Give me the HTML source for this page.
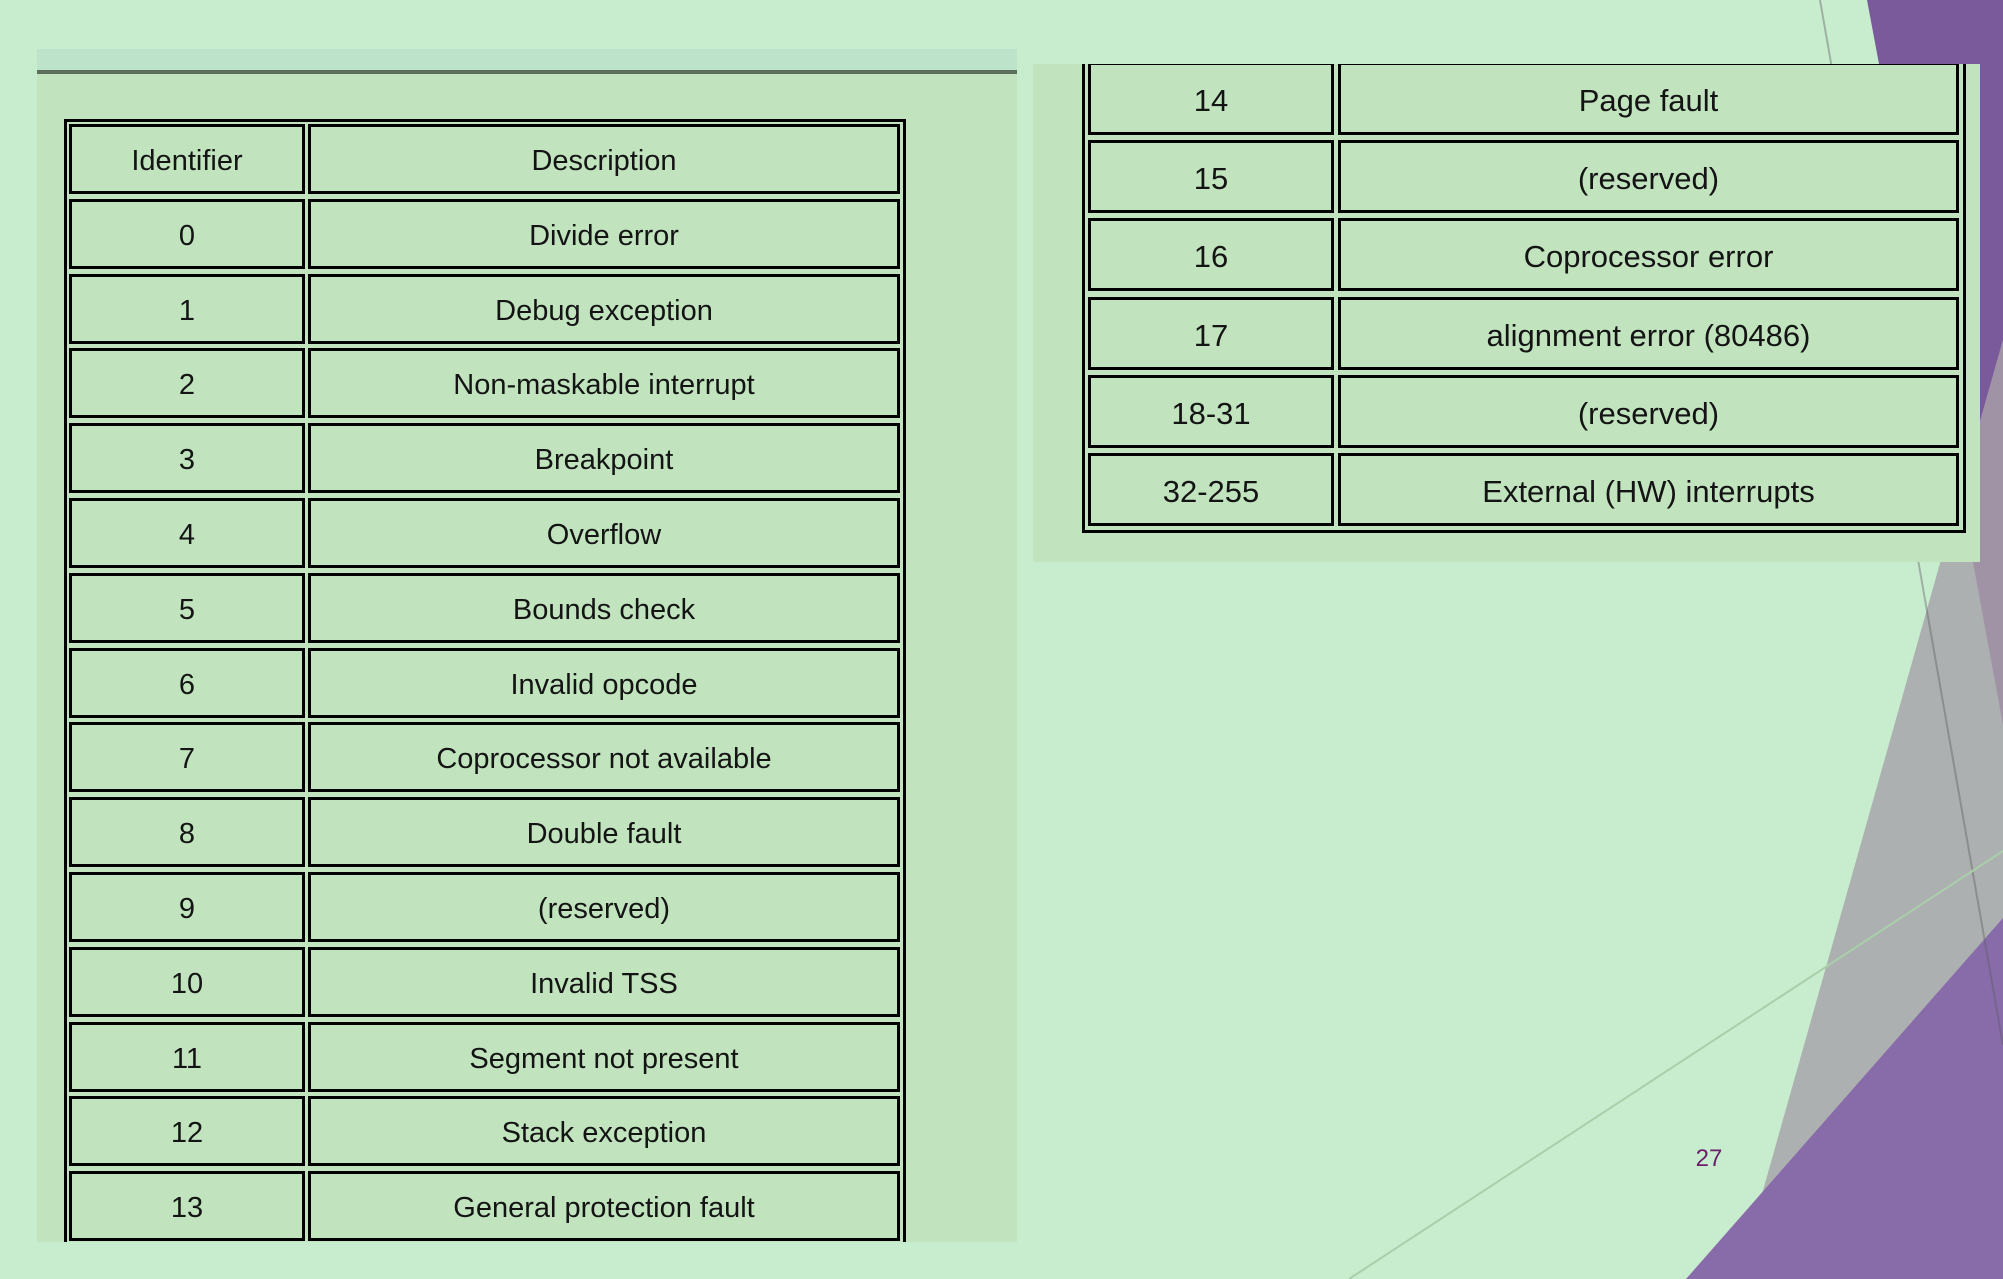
<!DOCTYPE html>
<html><head><meta charset="utf-8"><style>
body{margin:0;width:2003px;height:1279px;background:#c8ecce;position:relative;overflow:hidden;font-family:"Liberation Sans",sans-serif;}
svg.bg{position:absolute;left:0;top:0}
.panel{position:absolute;background:#c1e4bf;overflow:hidden}
.c{position:absolute;box-sizing:border-box;border:3px solid #000;display:flex;align-items:center;justify-content:center;color:#141414;padding-top:5px}
.L .c{font-size:29px;height:70px}
.R .c{font-size:31px;height:73px}
.outer{position:absolute;box-sizing:border-box;border:3px solid #000}
</style></head><body>
<svg class="bg" width="2003" height="1279">
<polygon points="1867,0 2003,0 2003,725" fill="#7a5a9a"/>
<polygon points="2003,340 1738,1279 2003,1279" fill="#adb0b0"/>
<polygon points="2003,340 1960,492 2003,725" fill="#a193a6"/>
<polygon points="2003,918 1686,1279 2003,1279" fill="#886ca9"/>
<line x1="1820" y1="0" x2="2003" y2="1045" stroke="rgba(90,90,100,0.4)" stroke-width="2"/>
<line x1="2003" y1="851" x2="1349" y2="1279" stroke="#a9cfaa" stroke-width="2"/>
<text x="1709" y="1166" font-family="Liberation Sans,sans-serif" font-size="24" fill="#6b1f6b" text-anchor="middle">27</text>
</svg>

<div class="panel L" style="left:37px;top:49px;width:980px;height:1193px">
<div style="position:absolute;left:0;top:0;width:980px;height:21px;background:#bde4cb"></div>
<div style="position:absolute;left:0;top:21px;width:980px;height:4px;background:#5e6e5e"></div>
<div class="outer" style="left:27px;top:70px;width:842px;height:1200px"></div>
<div style="position:absolute;left:0;top:-49px">
<div class="c" style="left:32px;top:124px;width:236px">Identifier</div><div class="c" style="left:271px;top:124px;width:592px">Description</div>
<div class="c" style="left:32px;top:199px;width:236px">0</div><div class="c" style="left:271px;top:199px;width:592px">Divide error</div>
<div class="c" style="left:32px;top:274px;width:236px">1</div><div class="c" style="left:271px;top:274px;width:592px">Debug exception</div>
<div class="c" style="left:32px;top:348px;width:236px">2</div><div class="c" style="left:271px;top:348px;width:592px">Non-maskable interrupt</div>
<div class="c" style="left:32px;top:423px;width:236px">3</div><div class="c" style="left:271px;top:423px;width:592px">Breakpoint</div>
<div class="c" style="left:32px;top:498px;width:236px">4</div><div class="c" style="left:271px;top:498px;width:592px">Overflow</div>
<div class="c" style="left:32px;top:573px;width:236px">5</div><div class="c" style="left:271px;top:573px;width:592px">Bounds check</div>
<div class="c" style="left:32px;top:648px;width:236px">6</div><div class="c" style="left:271px;top:648px;width:592px">Invalid opcode</div>
<div class="c" style="left:32px;top:722px;width:236px">7</div><div class="c" style="left:271px;top:722px;width:592px">Coprocessor not available</div>
<div class="c" style="left:32px;top:797px;width:236px">8</div><div class="c" style="left:271px;top:797px;width:592px">Double fault</div>
<div class="c" style="left:32px;top:872px;width:236px">9</div><div class="c" style="left:271px;top:872px;width:592px">(reserved)</div>
<div class="c" style="left:32px;top:947px;width:236px">10</div><div class="c" style="left:271px;top:947px;width:592px">Invalid TSS</div>
<div class="c" style="left:32px;top:1022px;width:236px">11</div><div class="c" style="left:271px;top:1022px;width:592px">Segment not present</div>
<div class="c" style="left:32px;top:1096px;width:236px">12</div><div class="c" style="left:271px;top:1096px;width:592px">Stack exception</div>
<div class="c" style="left:32px;top:1171px;width:236px">13</div><div class="c" style="left:271px;top:1171px;width:592px">General protection fault</div>
</div>
</div>

<div class="panel R" style="left:1033px;top:64px;width:947px;height:498px">
<div class="outer" style="left:49px;top:-10px;width:884px;height:479px"></div>
<div style="position:absolute;left:-1033px;top:-64px">
<div class="c" style="left:1088px;top:62px;width:246px">14</div><div class="c" style="left:1338px;top:62px;width:621px">Page fault</div>
<div class="c" style="left:1088px;top:140px;width:246px">15</div><div class="c" style="left:1338px;top:140px;width:621px">(reserved)</div>
<div class="c" style="left:1088px;top:218px;width:246px">16</div><div class="c" style="left:1338px;top:218px;width:621px">Coprocessor error</div>
<div class="c" style="left:1088px;top:297px;width:246px">17</div><div class="c" style="left:1338px;top:297px;width:621px">alignment error (80486)</div>
<div class="c" style="left:1088px;top:375px;width:246px">18-31</div><div class="c" style="left:1338px;top:375px;width:621px">(reserved)</div>
<div class="c" style="left:1088px;top:453px;width:246px">32-255</div><div class="c" style="left:1338px;top:453px;width:621px">External (HW) interrupts</div>
</div>
</div>
</body></html>
